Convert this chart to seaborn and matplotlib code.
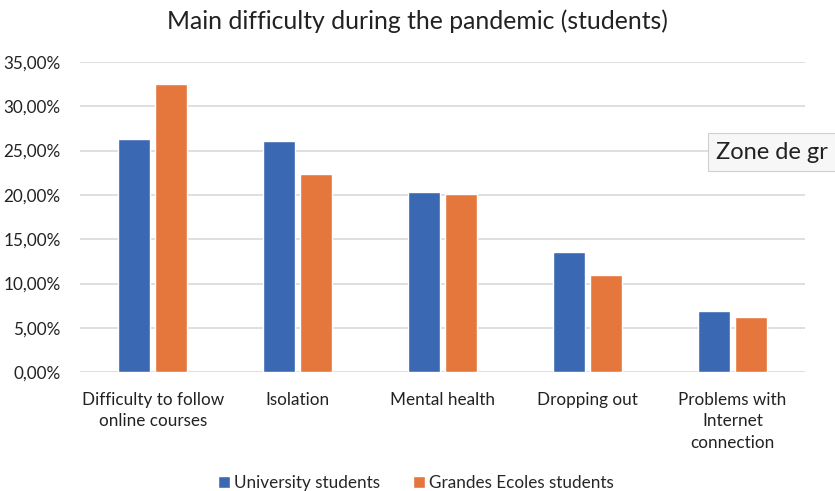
import matplotlib
matplotlib.use("Agg")
import matplotlib.pyplot as plt
import pandas as pd
import seaborn as sns
from matplotlib.ticker import FuncFormatter, MultipleLocator

# values (percent)
categories = ["Difficulty to follow\nonline courses", "Isolation", "Mental health",
              "Dropping out", "Problems with\nInternet\nconnection"]
university = [26.3, 26.1, 20.35, 13.5, 6.9]
grandes_ecoles = [32.5, 22.4, 20.1, 10.95, 6.25]
series = ["University students", "Grandes Ecoles students"]

df = pd.DataFrame({
    "category": categories * 2,
    "value": university + grandes_ecoles,
    "group": [series[0]] * 5 + [series[1]] * 5,
})

sns.set_style("white")
plt.rcParams["font.family"] = ["Lato", "DejaVu Sans"]

fig = plt.figure(figsize=(8.35, 4.91), dpi=100)
ax = fig.add_axes([0.096, 0.242, 0.868, 0.632])

sns.barplot(data=df, x="category", y="value", hue="group",
            palette=["#3B68B2", "#E5773D"], width=0.52, gap=0.15,
            saturation=1, ax=ax, zorder=3)

ax.set_ylim(0, 35)
ax.set_xlim(-0.5, 4.5)
ax.yaxis.set_major_locator(MultipleLocator(5))
ax.yaxis.set_major_formatter(FuncFormatter(lambda v, p: f"{v:.2f}".replace(".", ",") + "%"))
ax.grid(axis="y", color="#D9D9D9", lw=1.2, zorder=0)
for s in ax.spines.values():
    s.set_visible(False)
ax.tick_params(axis="both", length=0, labelsize=12.3, colors="#222222")
ax.tick_params(axis="x", pad=14)
ax.tick_params(axis="y", pad=14)
for lbl in ax.get_xticklabels():
    lbl.set_linespacing(1.45)
ax.set_xlabel("")
ax.set_ylabel("")

fig.text(0.5, 0.957, "Main difficulty during the pandemic (students)",
         ha="center", va="center", fontsize=17.8, color="#222222")

handles, labels = ax.get_legend_handles_labels()
ax.legend_.remove()
fig.legend(handles, labels, loc="center", bbox_to_anchor=(0.498, 0.017), ncol=2,
           frameon=False, fontsize=12.3, handlelength=0.7, handleheight=0.7,
           handletextpad=0.25, columnspacing=1.9)

# tooltip overlay visible in the screenshot (cut by the right edge)
fig.text(0.858, 0.69, "Zone de gr", ha="left", va="center", fontsize=17,
         color="#222222",
         bbox=dict(boxstyle="square,pad=0.35", fc="#F7F7F7", ec="#CFCFCF", lw=0.8))

fig.savefig("out.png", dpi=100)
